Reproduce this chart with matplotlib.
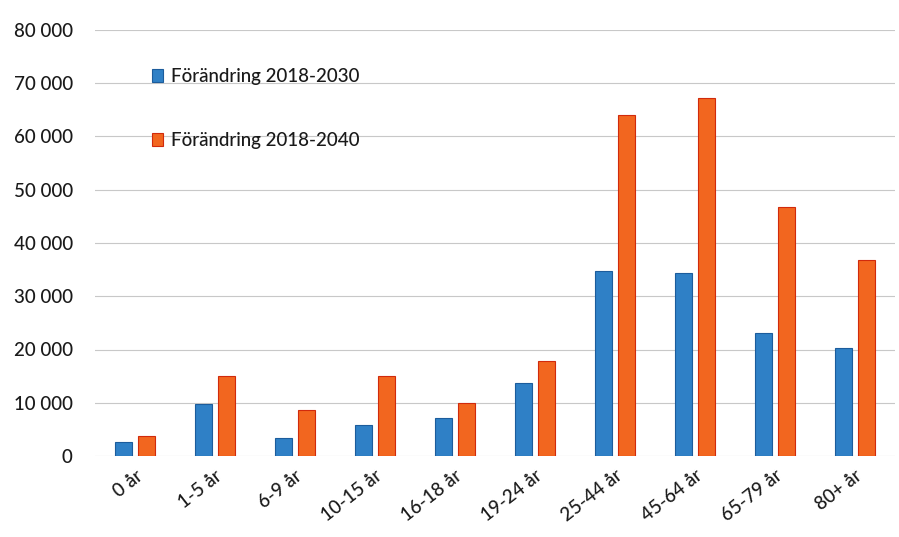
import matplotlib.pyplot as plt
import numpy as np

# age groups and population change
categories = ['0 år', '1-5 år', '6-9 år', '10-15 år', '16-18 år',
              '19-24 år', '25-44 år', '45-64 år', '65-79 år', '80+ år']
change_2030 = [2700, 9800, 3400, 5800, 7100, 13700, 34700, 34400, 23100, 20200]
change_2040 = [3700, 15000, 8700, 15000, 10000, 17900, 64100, 67200, 46700, 36900]
series_labels = ['Förändring 2018-2030', 'Förändring 2018-2040']
yticks = [0, 10000, 20000, 30000, 40000, 50000, 60000, 70000, 80000]

plt.rcParams['font.family'] = ['Lato', 'DejaVu Sans']

fig = plt.figure(figsize=(8.99, 5.37), dpi=100)
ax = fig.add_axes([95 / 899, 1 - 456 / 537, 800 / 899, 426 / 537])

x = np.arange(len(categories))
w = 0.21
off = 0.145
ax.bar(x - off, change_2030, w, color='#2F80C6', edgecolor='#1C5C9C',
       linewidth=0.8, label=series_labels[0], zorder=3)
ax.bar(x + off, change_2040, w, color='#F2661F', edgecolor='#D12A0C',
       linewidth=0.8, label=series_labels[1], zorder=3)

ax.set_xlim(-0.5, len(categories) - 0.5)
ax.set_ylim(0, 80000)
ax.set_yticks(yticks)
ax.set_yticklabels([f'{v:,}'.replace(',', ' ') for v in yticks])
ax.yaxis.grid(True, color='#C8C8C8', linewidth=0.8, zorder=0)
for s in ax.spines.values():
    s.set_visible(False)
ax.tick_params(axis='both', length=0, labelsize=13.5, colors='#1A1A1A')
ax.tick_params(axis='y', pad=16)
ax.tick_params(axis='x', pad=8)
ax.set_xticks(x)
ax.set_xticklabels(categories, rotation=38, ha='right', rotation_mode='anchor')
for t in ax.get_xticklabels() + ax.get_yticklabels():
    t.set_fontweight('medium')

leg = ax.legend(loc='upper left', bbox_to_anchor=(0.05, 0.95), frameon=False,
                fontsize=13.5, labelspacing=2.5, handlelength=0.6,
                handleheight=0.7, handletextpad=0.4)
for t in leg.get_texts():
    t.set_color('#1A1A1A')
    t.set_fontweight('medium')

fig.savefig('out.png', dpi=100)
